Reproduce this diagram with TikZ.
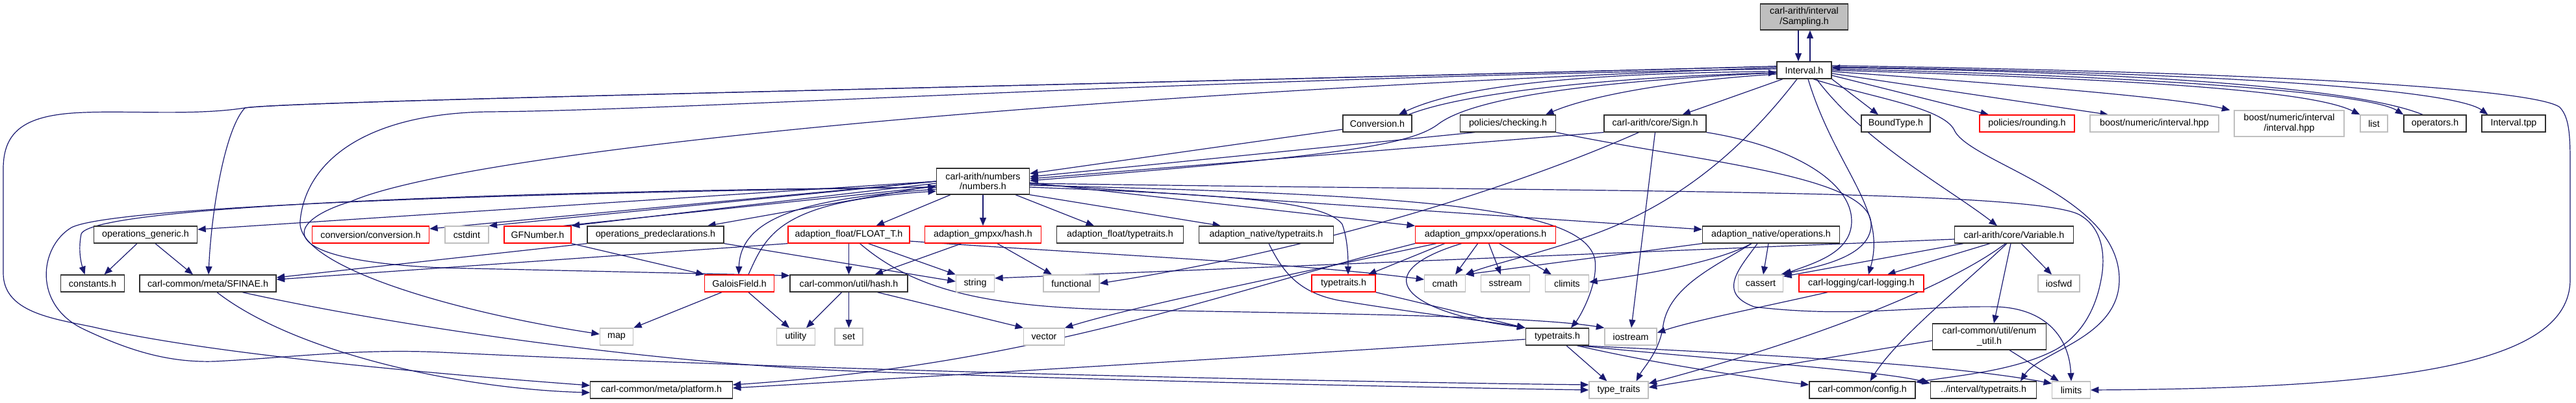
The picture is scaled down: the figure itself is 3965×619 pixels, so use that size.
\documentclass[tikz,border=0pt]{standalone}
\usepackage{fontspec}
\setmainfont{Liberation Sans}
\usetikzlibrary{arrows.meta}
\definecolor{edgec}{HTML}{191970}
\definecolor{sysc}{HTML}{BFBFBF}
\definecolor{blkc}{HTML}{303030}
\definecolor{redc}{HTML}{FF0000}
\newcommand\nfont{\fontsize{14.3}{15.6}\selectfont}
\pgfdeclarelayer{bg}
\pgfsetlayers{bg,main}
\begin{document}
\begin{tikzpicture}[x=1pt,y=-1pt,
  box/.style={rectangle,draw,fill=white,line width=1.3pt,minimum height=26pt,inner sep=0pt,font=\nfont,align=center,text=black},
  blk/.style={box,draw=blkc},
  redb/.style={box,draw=redc},
  sysb/.style={box,draw=sysc},
  e/.style={draw=edgec,line width=1.2pt,-{Triangle[length=12.5pt,width=10pt]}}]
\useasboundingbox (0,0) rectangle (3965,619);
% ---- nodes
\node[blk,fill=sysc,minimum width=135pt,minimum height=40pt] (samp) at (2777,26) {carl-arith/interval\\/Sampling.h};
\node[blk,minimum width=84pt] (intv) at (2777,108) {Interval.h};
\node[blk,minimum width=106pt] (conv) at (2120,190) {Conversion.h};
\node[blk,minimum width=147pt] (chk) at (2321,190) {policies/checking.h};
\node[blk,minimum width=157pt] (sign) at (2547.5,190) {carl-arith/core/Sign.h};
\node[blk,minimum width=106pt] (bt) at (2918,190) {BoundType.h};
\node[redb,minimum width=146pt] (round) at (3120,190) {policies/rounding.h};
\node[sysb,minimum width=198pt] (bni) at (3316,190) {boost/numeric/interval.hpp};
\node[sysb,minimum width=169pt,minimum height=40pt] (bnii) at (3523.5,190) {boost/numeric/interval\\/interval.hpp};
\node[sysb,minimum width=42pt] (lst) at (3654,190) {list};
\node[blk,minimum width=96pt] (ops) at (3748,190) {operators.h};
\node[blk,minimum width=98pt] (tpp) at (3869,190) {Interval.tpp};
\node[blk,minimum width=143pt,minimum height=40pt] (num) at (1513,279) {carl-arith/numbers\\/numbers.h};
% row 361
\node[blk,minimum width=159pt] (opgen) at (224,361) {operations\_generic.h};
\node[redb,minimum width=180pt] (convc) at (570.5,361) {conversion/conversion.h};
\node[sysb,minimum width=67pt] (cstdint) at (718.5,361) {cstdint};
\node[redb,minimum width=103pt] (gfn) at (827.5,361) {GFNumber.h};
\node[blk,minimum width=210pt] (opspre) at (1009,361) {operations\_predeclarations.h};
\node[redb,minimum width=187pt] (flt) at (1306.5,361) {adaption\_float/FLOAT\_T.h};
\node[redb,minimum width=179pt] (gmphash) at (1513,361) {adaption\_gmpxx/hash.h};
\node[blk,minimum width=195pt] (aftt) at (1724,361) {adaption\_float/typetraits.h};
\node[blk,minimum width=207pt] (anttt) at (1949,361) {adaption\_native/typetraits.h};
\node[redb,minimum width=216pt] (gmpops) at (2286.6,361) {adaption\_gmpxx/operations.h};
\node[blk,minimum width=211pt] (anops) at (2726,361) {adaption\_native/operations.h};
\node[blk,minimum width=183pt] (var) at (3100,361) {carl-arith/core/Variable.h};
% row 436
\node[blk,minimum width=98pt] (cnst) at (142.5,436) {constants.h};
\node[blk,minimum width=210pt] (sfinae) at (320,436) {carl-common/meta/SFINAE.h};
\node[redb,minimum width=107pt] (gf) at (1138,436) {GaloisField.h};
\node[blk,minimum width=181pt] (uhash) at (1306.5,436) {carl-common/util/hash.h};
\node[sysb,minimum width=59pt] (strg) at (1501,436) {string};
\node[sysb,minimum width=86pt] (func) at (1649,436) {functional};
\node[redb,minimum width=98pt] (ttred) at (2068,436) {typetraits.h};
\node[sysb,minimum width=62.5pt] (cmath) at (2224,436) {cmath};
\node[sysb,minimum width=75pt] (sstream) at (2317,436) {sstream};
\node[sysb,minimum width=67pt] (climits) at (2412,436) {climits};
\node[sysb,minimum width=69pt] (cassert) at (2710,436) {cassert};
\node[redb,minimum width=192pt] (clog) at (2865,436) {carl-logging/carl-logging.h};
\node[sysb,minimum width=64pt] (iosfwd) at (3169,436) {iosfwd};
% row 518
\node[sysb,minimum width=51pt] (map) at (949,518) {map};
\node[sysb,minimum width=59.5pt] (utility) at (1225,518) {utility};
\node[sysb,minimum width=43pt] (set) at (1306.5,518) {set};
\node[sysb,minimum width=62.5pt] (vector) at (1607,518) {vector};
\node[blk,minimum width=97.6pt] (ttblk) at (2397,518) {typetraits.h};
\node[sysb,minimum width=80pt] (iostream) at (2510,518) {iostream};
\node[blk,minimum width=174.5pt,minimum height=40pt] (enum) at (3062,518) {carl-common/util/enum\\\_util.h};
% row 600
\node[blk,minimum width=218.5pt] (platform) at (1018,600) {carl-common/meta/platform.h};
\node[sysb,minimum width=91pt] (typetr) at (2491.5,600) {type\_traits};
\node[blk,minimum width=163pt] (config) at (2866.5,600) {carl-common/config.h};
\node[blk,minimum width=162.6pt] (ivtt) at (3053,600) {../interval/typetraits.h};
\node[sysb,minimum width=58.5pt] (limits) at (3188,600) {limits};
% ---- edges
\begin{pgfonlayer}{bg}
\draw[e] ([xshift=-9pt]samp.south) -- ([xshift=-9pt]intv.north);
\draw[e] ([xshift=9pt]intv.north) -- ([xshift=9pt]samp.south);
% Interval -> row 190
\draw[e] ([yshift=-2pt]intv.west) .. controls (2450,112) and (2250,130) .. ([xshift=33pt]conv.north);
\draw[e] ([xshift=48pt]conv.north) .. controls (2260,140) and (2500,118) .. ([yshift=-4pt]intv.west);
\draw[e] ([yshift=-6pt]intv.west) .. controls (2560,125) and (2440,150) .. ([xshift=58pt]chk.north);
\draw[e] ([xshift=-33pt]intv.south) -- ([xshift=42pt]sign.north);
\draw[e] (intv.south east) -- ([xshift=-27pt]bt.north);
\draw[e] ([yshift=-8pt]intv.east) -- ([xshift=-59pt]round.north);
\draw[e] ([yshift=-5pt]intv.east) -- ([xshift=-71pt]bni.north);
\draw[e] ([yshift=-2pt]intv.east) .. controls (3100,130) and (3350,150) .. ([xshift=-6pt]bnii.north west);
\draw[e] (intv.east) .. controls (3300,122) and (3560,140) .. (lst.north west);
\draw[e] ([yshift=2pt]intv.east) .. controls (3350,118) and (3650,145) .. (ops.north west);
\draw[e] ([xshift=-19pt]ops.north) .. controls (3640,140) and (3350,112) .. ([yshift=4pt]intv.east);
\draw[e] ([yshift=5pt]intv.east) .. controls (3450,112) and (3780,140) .. ([xshift=10pt]tpp.north west);
\draw[e] ([yshift=7pt]intv.east) .. controls (3450,110) and (3900,135) .. (3940,165) .. controls (3954,180) and (3956,205) .. (3956,250) -- (3956,430) .. controls (3956,560) and (3700,597) .. (limits.east);
% Interval -> lower
\draw[e] ([xshift=-11pt]intv.south) .. controls (2690,220) and (2600,300) .. (2480,350) .. controls (2400,383) and (2300,405) .. (cmath.north east);
\draw[e] ([xshift=6pt]intv.south) .. controls (2825,260) and (2905,320) .. ([xshift=11pt]clog.north);
\draw[e] ([xshift=19pt]intv.south) .. controls (2870,220) and (3000,290) .. ([xshift=-26pt]var.north);
\draw[e] ([xshift=14pt]intv.south) .. controls (2880,150) and (2990,165) .. (3008,200) .. controls (3030,250) and (3262,300) .. (3262,430) .. controls (3262,520) and (3140,540) .. ([xshift=57pt]ivtt.north);
\draw[e] ([yshift=-4pt]intv.west) .. controls (2450,125) and (2270,150) .. (2215,190) .. controls (2170,225) and (2050,240) .. ([yshift=1pt]num.east);
% Interval -> far left
\draw[e] ([yshift=2pt]intv.west) .. controls (1800,122) and (1050,170) .. (750,172) .. controls (560,175) and (470,250) .. (462,340) .. controls (455,410) and (700,480) .. ([yshift=4pt]map.west);
\draw[e] ([yshift=4pt]intv.west) .. controls (1500,150) and (700,240) .. (540,310) .. controls (440,340) and (410,400) .. (680,412) -- ([yshift=12pt]uhash.west);
\draw[e] ([yshift=6pt]intv.west) .. controls (1500,135) and (450,155) .. (377,166) .. controls (345,200) and (325,330) .. ([xshift=1pt]sfinae.north);
\draw[e] ([yshift=6pt]intv.west) .. controls (1500,135) and (450,155) .. (377,166) .. controls (300,178) and (200,170) .. (130,173) .. controls (40,176) and (5,200) .. (5,260) -- (5,420) .. controls (5,480) and (80,490) .. (143,503) .. controls (300,540) and (600,570) .. ([yshift=7pt]platform.west);
% numbers
\draw[e] (num.west) -- ([yshift=8pt]opgen.east);
\draw[e] (num.west) -- ([yshift=9pt]convc.east);
\draw[e] (num.west) -- (cstdint.north east);
\draw[e] ([yshift=-3pt]num.west) -- (gfn.north east);
\draw[e] ([xshift=-12pt]gfn.north east) -- ([yshift=-8pt]num.west);
\draw[e] ([yshift=-6pt]num.west) -- ([xshift=80pt]opspre.north);
\draw[e] ([xshift=-50pt]num.south) -- ([xshift=42pt]flt.north);
\draw[e] (num.south) -- (gmphash.north);
\draw[e] ([xshift=50pt]num.south) -- ([xshift=-40pt]aftt.north);
\draw[e] (num.south east) -- ([xshift=-70pt]anttt.north);
\draw[e] ([yshift=-2pt]num.east) -- (gmpops.north west);
\draw[e] ([yshift=-4pt]num.east) -- ([yshift=8pt]anops.west);
\draw[e] ([yshift=-9pt]num.east) .. controls (1900,300) and (2040,310) .. (2066,345) .. controls (2075,370) and (2075,400) .. ([xshift=7pt]ttred.north);
\draw[e] ([yshift=-6pt]num.east) .. controls (2200,300) and (2440,320) .. (2455,400) .. controls (2460,440) and (2430,490) .. ([xshift=21pt]ttblk.north);
\draw[e] ([yshift=-12pt]num.west) .. controls (1250,305) and (1140,330) .. ([xshift=-1pt]gf.north);
\draw[e] ([xshift=14pt]gf.north) .. controls (1180,360) and (1200,310) .. ([yshift=-15pt]num.west);
\draw[e] ([yshift=-9pt]num.west) .. controls (700,295) and (140,320) .. (125,360) .. controls (120,385) and (125,405) .. ([xshift=-12pt]cnst.north);
\draw[e] ([yshift=-9pt]num.west) .. controls (700,298) and (170,320) .. (110,350) .. controls (60,380) and (50,470) .. (130,507) .. controls (200,540) and (260,558) .. (330,556) .. controls (450,550) and (550,536) .. (680,542) .. controls (1300,572) and (2100,588) .. ([yshift=8pt]typetr.west);
\draw[e] ([yshift=-3pt]num.east) .. controls (2400,295) and (3120,290) .. (3200,330) .. controls (3240,352) and (3240,400) .. (3234,430) .. controls (3225,480) and (3200,520) .. (3160,540) .. controls (3100,570) and (3020,577) .. ([yshift=12pt]config.east);
% opgen, sfinae
\draw[e] ([xshift=-13pt]opgen.south) -- ([xshift=18pt]cnst.north);
\draw[e] ([xshift=15pt]opgen.south) -- ([xshift=-23pt]sfinae.north);
\draw[e] ([xshift=14pt]sfinae.south) .. controls (450,540) and (700,598) .. ([yshift=-4pt]platform.west);
\draw[e] ([xshift=53pt]sfinae.south) .. controls (600,500) and (1000,560) .. (1340,572) .. controls (1800,588) and (2200,596) .. (typetr.west);
% opspre, float
\draw[e] (opspre.south west) -- ([yshift=9pt]sfinae.east);
\draw[e] (flt.south west) -- ([yshift=6pt]sfinae.east);
\draw[e] (opspre.south east) -- ([yshift=3pt]strg.west);
\draw[e] (flt.south) -- (uhash.north);
\draw[e] ([xshift=30pt]flt.south) -- (strg.north west);
\draw[e] ([yshift=-10pt]flt.east) .. controls (1700,392) and (2000,405) .. ([yshift=6pt]cmath.west);
\draw[e] ([xshift=17pt]flt.south) .. controls (1400,440) and (1500,470) .. (1700,476) .. controls (2000,482) and (2350,485) .. (iostream.north west);
% gmphash, gf, uhash, gfn
\draw[e] ([xshift=-33pt]gmphash.south) -- ([xshift=40pt]uhash.north);
\draw[e] ([xshift=22pt]gmphash.south) -- ([xshift=-30pt]func.north);
\draw[e] ([xshift=-27pt]gf.south) -- (map.north east);
\draw[e] ([xshift=14pt]gf.south) -- ([xshift=-10pt]utility.north);
\draw[e] ([xshift=-11pt]uhash.south) -- ([xshift=16pt]utility.north);
\draw[e] (uhash.south) -- (set.north);
\draw[e] ([xshift=44pt]uhash.south) -- (vector.north west);
\draw[e] (gfn.south east) -- (gf.north west);
% Conversion, checking, Sign
\draw[e] ([yshift=-9pt]conv.west) -- ([yshift=12pt]num.east);
\draw[e] ([xshift=-51pt]chk.south) -- ([yshift=7pt]num.east);
\draw[e] (sign.south west) -- ([yshift=4pt]num.east);
\draw[e] ([xshift=-25pt]sign.south) .. controls (2350,280) and (2050,380) .. (func.east);
\draw[e] (sign.south) -- ([xshift=1pt]iostream.north);
\draw[e] (sign.south east) .. controls (2760,225) and (2850,280) .. (2850,340) .. controls (2850,390) and (2790,405) .. (cassert.north east);
\draw[e] (chk.south east) .. controls (2620,250) and (2880,270) .. (2880,345) .. controls (2880,395) and (2800,410) .. ([xshift=-4pt]cassert.north east);
% gmpops
\draw[e] ([xshift=-63pt]gmpops.south) -- ([xshift=38pt]ttred.north);
\draw[e] ([xshift=-12pt]gmpops.south) -- ([xshift=16pt]cmath.north);
\draw[e] ([xshift=5pt]gmpops.south) -- ([xshift=-7pt]sstream.north);
\draw[e] ([xshift=21pt]gmpops.south) -- ([xshift=-24pt]climits.north);
\draw[e] ([xshift=-37pt]gmpops.south) .. controls (2100,420) and (2160,480) .. (ttblk.north west);
\draw[e] ([xshift=-76pt]gmpops.south) .. controls (2000,420) and (1750,470) .. (vector.north east);
\draw[e] (gmpops.south west) .. controls (1880,450) and (1600,560) .. ([yshift=8pt]platform.east);
% anttt, ttred, ttblk
\draw[e] ([xshift=4pt]anttt.south) .. controls (1975,420) and (2000,450) .. (2060,462) .. controls (2200,485) and (2300,495) .. (ttblk.north west);
\draw[e] (ttred.south east) -- (ttblk.north west);
\draw[e] ([xshift=14pt]ttblk.south) -- ([xshift=-18pt]typetr.north);
\draw[e] ([yshift=-4pt]ttblk.west) .. controls (2000,545) and (1500,575) .. ([yshift=3pt]platform.east);
\draw[e] ([xshift=30pt]ttblk.south) .. controls (2550,560) and (2700,582) .. ([yshift=8pt]config.west);
\draw[e] ([xshift=34pt]ttblk.south) .. controls (2600,550) and (2900,570) .. ([yshift=10pt]ivtt.west);
\draw[e] ([xshift=38pt]ttblk.south) .. controls (2700,545) and (3000,560) .. ([yshift=10pt]limits.west);
% anops
\draw[e] ([xshift=-4pt]anops.south) -- ([xshift=4pt]cassert.north);
\draw[e] (anops.south west) -- (cmath.north east);
\draw[e] ([xshift=-21pt]anops.south) .. controls (2680,410) and (2640,450) .. (2700,472) .. controls (2850,490) and (2950,470) .. (3074,472) .. controls (3150,475) and (3185,520) .. (limits.north);
\draw[e] ([xshift=-30pt]anops.south) .. controls (2650,400) and (2550,420) .. ([yshift=2pt]climits.east);
\draw[e] ([xshift=-30pt]anops.south) .. controls (2640,410) and (2570,440) .. (2560,500) .. controls (2555,540) and (2530,565) .. ([xshift=27pt]typetr.north);
% clog, enum
\draw[e] ([xshift=-52pt]clog.south) .. controls (2700,475) and (2600,495) .. ([yshift=6pt]iostream.east);
\draw[e] ([xshift=31pt]enum.south) -- ([xshift=-19pt]limits.north);
\draw[e] ([yshift=-6pt]enum.west) -- ([yshift=4pt]typetr.east);
% Variable
\draw[e] ([xshift=11pt]var.south) -- ([xshift=-11pt]iosfwd.north);
\draw[e] ([xshift=-5pt]var.south) -- ([xshift=7pt]enum.north);
\draw[e] ([xshift=-11pt]var.south) .. controls (3020,440) and (2920,520) .. ([xshift=12pt]config.north);
\draw[e] ([xshift=-13pt]var.south) .. controls (3000,440) and (2800,520) .. ([yshift=10pt]typetr.east);
\draw[e] ([xshift=-37pt]var.south) -- ([xshift=40pt]clog.north);
\draw[e] ([xshift=-78pt]var.south) -- ([yshift=-3pt]cassert.north east);
\draw[e] ([yshift=-7pt]var.west) -- ([yshift=8pt]strg.east);
\end{pgfonlayer}
\end{tikzpicture}
\end{document}
